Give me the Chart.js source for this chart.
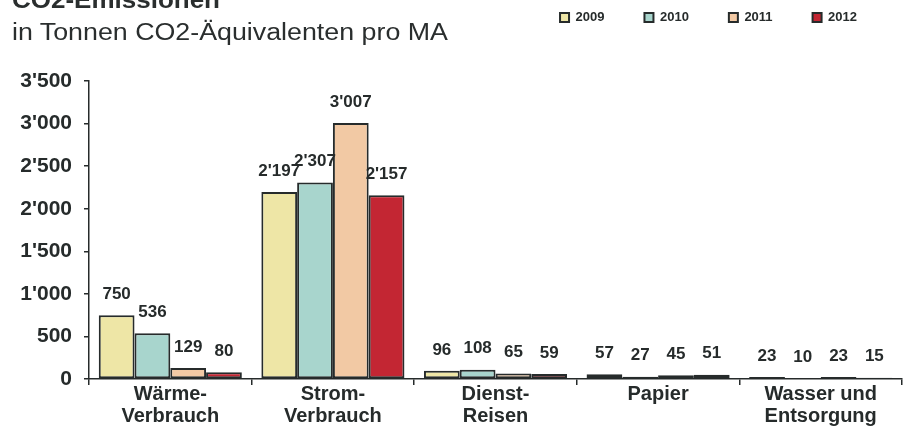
<!DOCTYPE html>
<html lang="de">
<head>
    <meta charset="UTF-8">
    <title>CO2-Emissionen</title>
    <script src="https://cdn.jsdelivr.net/npm/chart.js"></script>
    <style>
        body { margin: 0; background: #fff; }
        #wrap { position: relative; width: 907px; height: 432px; overflow: hidden; }
        .head { position: absolute; left: 12px; font-family: Arial, "Liberation Sans", sans-serif; color: #2a2e2e; white-space: nowrap; transform-origin: left top; }
        #title { top: -11px; font-size: 23px; line-height: 23px; font-weight: bold; transform: scaleX(1.13); }
        #subtitle { top: 21px; font-size: 23px; line-height: 23px; transform: scaleX(1.165); }
    </style>
</head>
<body>
<div id="wrap">
    <canvas id="co2Chart" width="907" height="432"></canvas>
    <div class="head" id="title">CO2-Emissionen</div>
    <div class="head" id="subtitle">in Tonnen CO2-Äquivalenten pro MA</div>
</div>

<script>
    // Daten
    var categories = [['Wärme-', 'Verbrauch'], ['Strom-', 'Verbrauch'], ['Dienst-', 'Reisen'], ['Papier'], ['Wasser und', 'Entsorgung']];
    var years = ['2009', '2010', '2011', '2012'];
    var v2009 = [750, 2197, 96, 57, 23];
    var v2010 = [536, 2307, 108, 27, 10];
    var v2011 = [129, 3007, 65, 45, 23];
    var v2012 = [80, 2157, 59, 51, 15];
    var yMax = 3500;
    var yStep = 500;

    var colors = ['#EEE6A6', '#A8D5CD', '#F2C9A4', '#C32633'];
    var ink = '#262b2b';
    var font = 'Arial, "Liberation Sans", sans-serif';

    // 3'500 statt 3500
    function fmt(n) {
        return String(n).replace(/\B(?=(\d{3})+(?!\d))/g, "'");
    }

    // Werte über den Balken
    var valueLabels = {
        id: 'valueLabels',
        afterDatasetsDraw: function(chart) {
            var ctx = chart.ctx;
            ctx.save();
            ctx.font = 'bold 17px ' + font;
            ctx.fillStyle = ink;
            ctx.textAlign = 'center';
            ctx.textBaseline = 'middle';
            chart.data.datasets.forEach(function(ds, i) {
                chart.getDatasetMeta(i).data.forEach(function(bar, j) {
                    ctx.fillText(fmt(ds.data[j]), bar.x, bar.y - 21);
                });
            });
            ctx.restore();
        }
    };

    // Legende nach oben rechts schieben (Plotbereich bleibt wo er ist)
    var moveLegend = {
        id: 'moveLegend',
        afterLayout: function(chart) {
            var lg = chart.legend;
            var dy = lg.top - (-29);
            lg.top -= dy;
            lg.bottom -= dy;
            lg.left -= 5;
            lg.right -= 5;
        }
    };

    var series = [v2009, v2010, v2011, v2012];
    var ctx = document.getElementById('co2Chart').getContext('2d');
    var chart = new Chart(ctx, {
        type: 'bar',
        data: {
            labels: categories,
            datasets: series.map(function(d, i) {
                return {
                    label: years[i],
                    data: d,
                    backgroundColor: colors[i],
                    borderColor: ink,
                    borderWidth: 2,
                    borderSkipped: false,
                    barPercentage: 1.0,
                    categoryPercentage: 0.88
                };
            })
        },
        options: {
            responsive: false,
            animation: false,
            layout: { padding: { top: 0, right: 5, left: 0, bottom: 0 } },
            plugins: {
                legend: {
                    position: 'top',
                    align: 'end',
                    labels: {
                        color: ink,
                        font: { family: font, size: 13, weight: 'bold' },
                        boxWidth: 9,
                        boxHeight: 9,
                        padding: 40
                    }
                },
                tooltip: { enabled: false }
            },
            scales: {
                x: {
                    grid: { drawOnChartArea: false, tickLength: 6, color: ink, lineWidth: 1.5 },
                    border: { color: ink, width: 1.5 },
                    ticks: {
                        color: ink,
                        padding: -2,
                        maxRotation: 0,
                        font: { family: font, size: 20, weight: 'bold', lineHeight: 1.1 }
                    },
                    afterFit: function(scale) { scale.height = 53; }
                },
                y: {
                    min: 0,
                    max: yMax,
                    grid: { drawOnChartArea: false, tickLength: 5, color: ink, lineWidth: 1.5 },
                    border: { color: ink, width: 1.5 },
                    ticks: {
                        stepSize: yStep,
                        color: ink,
                        padding: 12,
                        font: { family: font, size: 21, weight: 'bold' },
                        callback: function(v) { return fmt(v); }
                    },
                    afterFit: function(scale) {
                        scale.width = 89;
                        scale.paddingTop = 81;
                    }
                }
            }
        },
        plugins: [valueLabels, moveLegend]
    });
</script>
</body>
</html>
